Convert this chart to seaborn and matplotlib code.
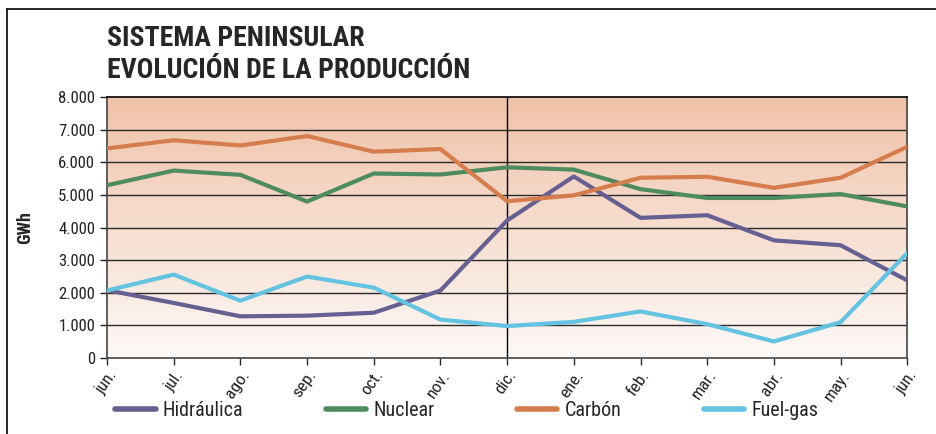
import numpy as np
import pandas as pd
import matplotlib
matplotlib.use('Agg')
import matplotlib.pyplot as plt
import seaborn as sns
from matplotlib import font_manager
from matplotlib.colors import LinearSegmentedColormap
from matplotlib.lines import Line2D
from matplotlib.ticker import FuncFormatter

meses = ['jun.', 'jul.', 'ago.', 'sep.', 'oct.', 'nov.', 'dic.', 'ene.', 'feb.', 'mar.', 'abr.', 'may.', 'jun.']
hidraulica = [2080, 1690, 1280, 1300, 1390, 2070, 4220, 5570, 4300, 4380, 3610, 3460, 2380]
nuclear = [5300, 5750, 5620, 4800, 5660, 5630, 5850, 5780, 5180, 4910, 4910, 5030, 4650]
carbon = [6430, 6680, 6520, 6810, 6330, 6410, 4810, 4990, 5530, 5560, 5220, 5530, 6480]
fuelgas = [2070, 2560, 1760, 2500, 2160, 1180, 980, 1110, 1430, 1040, 510, 1100, 3220]

series = {'Hidráulica': hidraulica, 'Nuclear': nuclear, 'Carbón': carbon, 'Fuel-gas': fuelgas}
colores = {'Hidráulica': '#665f92', 'Nuclear': '#4e8b5f', 'Carbón': '#d67d4d', 'Fuel-gas': '#63c3e1'}

df = pd.concat([pd.DataFrame({'mes': range(len(meses)), 'GWh': v, 'serie': k}) for k, v in series.items()])

sns.set_style('white')
# fuente estrecha si existe
disponibles = {f.name for f in font_manager.fontManager.ttflist}
estrecha = [f for f in ['Roboto Condensed', 'Liberation Sans Narrow', 'DejaVu Sans Condensed'] if f in disponibles]
plt.rcParams['font.family'] = estrecha[:1] + ['DejaVu Sans']
k = 1.0 if estrecha and estrecha[0] != 'DejaVu Sans Condensed' else 0.85

fig = plt.figure(figsize=(9.36, 4.34), dpi=100)
ax = fig.add_axes([0.1143, 0.175, 0.855, 0.601])

# fondo degradado
grad = np.linspace(0, 1, 256).reshape(-1, 1)
cmap = LinearSegmentedColormap.from_list('fondo', ['#fdf9f7', '#f0c2a8'])
ax.imshow(grad, cmap=cmap, origin='lower', aspect='auto',
          extent=[0, len(meses) - 1, 0, 8000], zorder=0)

for y in range(1000, 8000, 1000):
    ax.axhline(y, color='#2a2a2a', lw=1.0, zorder=1)
ax.axvline(6, color='black', lw=1.0, zorder=1)

sns.lineplot(data=df, x='mes', y='GWh', hue='serie', palette=colores,
             linewidth=3.0, ax=ax, zorder=3, legend=False)

ax.set_xlim(0, len(meses) - 1)
ax.set_ylim(0, 8000)
ax.set_xticks(range(len(meses)))
ax.set_xticklabels(meses, rotation=55, ha='right', rotation_mode='anchor', fontsize=12.5 * k, color='#222222')
ax.set_yticks(range(0, 8001, 1000))
ax.yaxis.set_major_formatter(FuncFormatter(lambda v, p: f'{int(v):,}'.replace(',', '.')))
ax.tick_params(axis='y', labelsize=12 * k, colors='#222222', length=5, width=1, direction='out', left=True)
ax.tick_params(axis='x', length=5, width=1, direction='out', bottom=True, pad=2)
for s in ax.spines.values():
    s.set_color('#444444')
    s.set_linewidth(1.2)
ax.spines['top'].set_color('black')
ax.set_xlabel('')
ax.set_ylabel('GWh', fontsize=13 * k, fontweight='bold')
ax.yaxis.set_label_coords(-0.091, 0.5)

fig.text(0.1143, 0.942, 'SISTEMA PENINSULAR\nEVOLUCIÓN DE LA PRODUCCIÓN', fontsize=20 * k,
         fontweight='bold', va='top', ha='left', linespacing=1.25)

handles = [Line2D([0], [0], color=colores[c], lw=4, solid_capstyle='round') for c in series]
fig.legend(handles, list(series.keys()), loc='center left', bbox_to_anchor=(0.104, 0.055),
           ncol=4, frameon=False, fontsize=14.5 * k, handlelength=2.0, handletextpad=0.35,
           columnspacing=4.1)

# marco
fig.add_artist(Line2D([0.0075, 0.0075], [0, 0.979], color='black', lw=1.2, transform=fig.transFigure))
fig.add_artist(Line2D([0.0075, 1.0], [0.979, 0.979], color='black', lw=1.2, transform=fig.transFigure))

fig.savefig('out.png', dpi=100)
